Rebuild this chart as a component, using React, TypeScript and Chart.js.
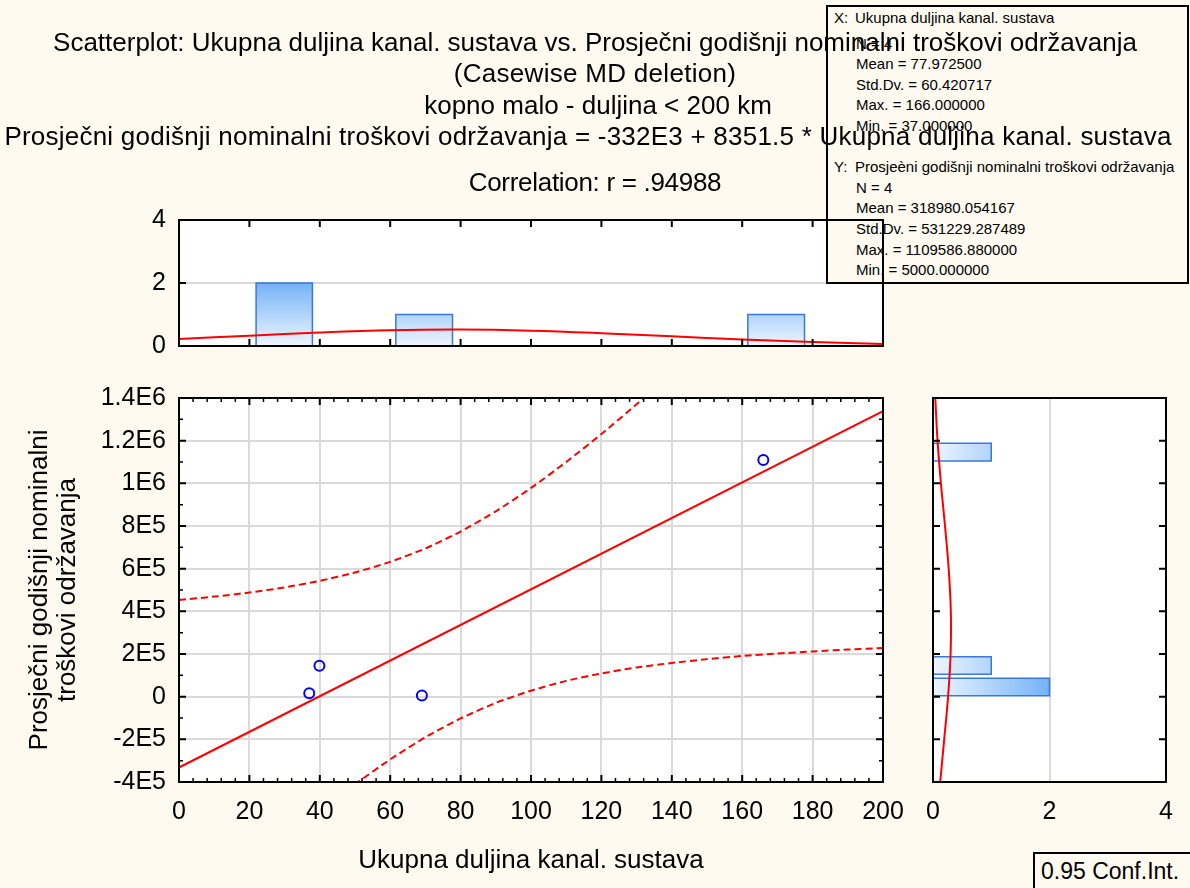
import { useEffect, useRef } from 'react';
import { Chart, registerables } from 'chart.js';

Chart.register(...registerables);

const FONT = "'Liberation Sans', Arial, Helvetica, sans-serif";
const PAGE_BG = '#fffaf0';
const RED = '#ff0000';

// ---- data ----
const caseX = [37, 39.89, 69, 166];
const caseY = [16000, 145333, 5000, 1109586.88];

const fitX = [0, 200];
const fitY = [-332000, 1338300];

const upperBandX = [0, 10, 20, 30, 40, 50, 60, 70, 80, 90, 100, 110, 120, 130, 140];
const upperBandY = [453000, 469000, 488000, 512000, 543000, 582000, 632000, 695000, 774000, 869000, 978000, 1100000, 1231000, 1371000, 1516000];
const lowerBandX = [40, 50, 60, 70, 80, 90, 100, 110, 120, 130, 140, 150, 160, 170, 180, 190, 200];
const lowerBandY = [-539000, -411000, -294000, -190000, -102000, -29000, 28000, 74000, 109000, 137000, 158000, 176000, 191000, 202000, 212000, 221000, 228000];

const xBinStart = [21.9, 61.6, 161.6];
const xBinEnd = [37.9, 77.7, 177.7];
const xBinCount = [2, 1, 1];

const yBinStart = [4700, 105000, 1104800];
const yBinEnd = [86300, 187500, 1187800];
const yBinCount = [2, 1, 1];

const xDensX = [0, 20, 40, 60, 80, 100, 120, 140, 160, 180, 200];
const xDens = [0.226, 0.328, 0.427, 0.498, 0.52, 0.486, 0.408, 0.307, 0.207, 0.125, 0.067];

const yDensY = [-400000, -200000, 0, 200000, 400000, 600000, 800000, 1000000, 1200000, 1400000];
const yDens = [0.124, 0.192, 0.259, 0.302, 0.306, 0.269, 0.206, 0.136, 0.078, 0.039];

const xRange = [0, 200];
const xStep = 20;
const yRange = [-400000, 1400000];
const yStep = 200000;
const countRange = [0, 4];
const countStep = 2;

const xTickLabels = ['0', '20', '40', '60', '80', '100', '120', '140', '160', '180', '200'];
const yTickLabels = ['-4E5', '-2E5', '0', '2E5', '4E5', '6E5', '8E5', '1E6', '1.2E6', '1.4E6'];
const countTickLabels = ['0', '2', '4'];

const titleLines = [
  'Scatterplot: Ukupna duljina kanal. sustava vs. Prosječni godišnji nominalni troškovi održavanja',
  '(Casewise MD deletion)',
  'kopno malo - duljina < 200 km',
  'Prosječni godišnji nominalni troškovi održavanja = -332E3 + 8351.5 * Ukupna duljina kanal. sustava',
  'Correlation: r = .94988',
];
const titleTops = [27, 58, 90, 121, 167];
const titleShift = [0, 0, 3, -7, 0];
const titleSpacing = [0, 0.3, 0, 0.23, -0.3];
const xTitle = 'Ukupna duljina kanal. sustava';
const yTitle = ['Prosječni godišnji nominalni', 'troškovi održavanja'];

const statsLines: [string, string][] = [
  ['X:', 'Ukupna duljina kanal. sustava'],
  ['', 'N = 4'],
  ['', 'Mean = 77.972500'],
  ['', 'Std.Dv. = 60.420717'],
  ['', 'Max. = 166.000000'],
  ['', 'Min. = 37.000000'],
  ['', ''],
  ['Y:', 'Prosjeèni godišnji nominalni troškovi održavanja'],
  ['', 'N = 4'],
  ['', 'Mean = 318980.054167'],
  ['', 'Std.Dv. = 531229.287489'],
  ['', 'Max. = 1109586.880000'],
  ['', 'Min. = 5000.000000'],
];
const confLabel = '0.95 Conf.Int.';

// ---- plugins ----
const plotBg = {
  id: 'plotBg',
  beforeDraw(chart: any) {
    const { ctx, chartArea: a } = chart;
    ctx.save();
    ctx.fillStyle = '#ffffff';
    ctx.fillRect(a.left, a.top, a.width, a.height);
    ctx.restore();
  },
};

const frameTicks = {
  id: 'frameTicks',
  afterDraw(chart: any, _args: any, opts: any) {
    const { ctx, chartArea: a } = chart;
    ctx.save();
    ctx.strokeStyle = '#000';
    for (const id of ['x', 'y']) {
      const cfg = opts[id];
      if (!cfg) continue;
      const sc = chart.scales[id];
      const vals = sc.ticks.map((t: any) => t.value);
      const marks: [number, number, number][] = [];
      vals.forEach((v: number, i: number) => {
        marks.push([v, 7, 2]);
        if (i < vals.length - 1 && cfg.minor > 1) {
          for (let k = 1; k < cfg.minor; k++) marks.push([v + ((vals[i + 1] - v) * k) / cfg.minor, 4, 1.5]);
        }
      });
      for (const [v, len, lw] of marks) {
        const p = sc.getPixelForValue(v);
        ctx.lineWidth = lw;
        ctx.beginPath();
        for (const side of cfg.sides) {
          if (side === 'top') { ctx.moveTo(p, a.top); ctx.lineTo(p, a.top + len); }
          if (side === 'bottom') { ctx.moveTo(p, a.bottom); ctx.lineTo(p, a.bottom - len); }
          if (side === 'left') { ctx.moveTo(a.left, p); ctx.lineTo(a.left + len, p); }
          if (side === 'right') { ctx.moveTo(a.right, p); ctx.lineTo(a.right - len, p); }
        }
        ctx.stroke();
      }
    }
    ctx.lineWidth = 2;
    ctx.strokeRect(a.left, a.top, a.width, a.height);
    ctx.restore();
  },
};

const tickFont = { family: FONT, size: 25 };
const gridColor = '#dadada';

const fitY_ = (w: number) => (s: any) => { s.width = w; s.paddingTop = 0; s.paddingBottom = 0; };
const fitX_ = (h: number) => (s: any) => { s.height = h; s.paddingLeft = 0; s.paddingRight = 0; };

const histGradient = (horizontal: boolean, maxCount: number) => (c: any) => {
  const chart = c.chart;
  if (!chart.chartArea) return '#cfe5ff';
  const sc = horizontal ? chart.scales.x : chart.scales.y;
  const p0 = sc.getPixelForValue(0);
  const p1 = sc.getPixelForValue(maxCount);
  const g = horizontal
    ? chart.ctx.createLinearGradient(p0, 0, p1, 0)
    : chart.ctx.createLinearGradient(0, p0, 0, p1);
  g.addColorStop(0, '#eef6ff');
  g.addColorStop(1, '#74b2f6');
  return g;
};

function mainConfig(): any {
  return {
    type: 'line',
    data: {
      datasets: [
        {
          type: 'scatter',
          data: caseX.map((x, i) => ({ x, y: caseY[i] })),
          pointStyle: 'circle',
          pointRadius: 5,
          borderColor: '#0000ff',
          borderWidth: 2,
          backgroundColor: 'rgba(0,0,0,0)',
        },
        {
          data: fitX.map((x, i) => ({ x, y: fitY[i] })),
          borderColor: RED, borderWidth: 2, pointRadius: 0, fill: false, clip: 0,
        },
        {
          data: upperBandX.map((x, i) => ({ x, y: upperBandY[i] })),
          borderColor: RED, borderWidth: 2, borderDash: [7, 4], pointRadius: 0, tension: 0.2, fill: false, clip: 0,
        },
        {
          data: lowerBandX.map((x, i) => ({ x, y: lowerBandY[i] })),
          borderColor: RED, borderWidth: 2, borderDash: [7, 4], pointRadius: 0, tension: 0.2, fill: false, clip: 0,
        },
      ],
    },
    options: {
      animation: false,
      responsive: false,
      maintainAspectRatio: false,
      layout: { padding: { top: 18, right: 27, left: 0, bottom: 0 } },
      plugins: {
        legend: { display: false },
        tooltip: { enabled: false },
        frameTicks: { x: { sides: ['top', 'bottom'], minor: 5 }, y: { sides: ['left', 'right'], minor: 2 } },
      },
      scales: {
        x: {
          type: 'linear', min: xRange[0], max: xRange[1],
          ticks: { stepSize: xStep, padding: 15, font: tickFont, color: '#000', maxRotation: 0, autoSkip: false, callback: (_v: any, i: number) => xTickLabels[i] },
          grid: { color: gridColor, lineWidth: 2, drawTicks: false },
          border: { display: false },
          title: { display: true, text: xTitle, font: { family: FONT, size: 26, lineHeight: 1.2 }, color: '#000', padding: { top: 0, bottom: 4 } },
          afterFit: fitX_(98),
        },
        y: {
          type: 'linear', min: yRange[0], max: yRange[1],
          ticks: { stepSize: yStep, padding: 13, font: tickFont, color: '#000', autoSkip: false, callback: (_v: any, i: number) => yTickLabels[i] },
          grid: { color: gridColor, lineWidth: 2, drawTicks: false },
          border: { display: false },
          title: { display: true, text: yTitle, font: { family: FONT, size: 26, lineHeight: 1.08 }, color: '#000', padding: { top: 26, bottom: 0 } },
          afterFit: fitY_(179),
        },
      },
    },
    plugins: [plotBg, frameTicks],
  };
}

function topHistConfig(): any {
  const maxCount = Math.max(...xBinCount);
  return {
    type: 'line',
    data: {
      datasets: [
        {
          data: xDensX.map((x, i) => ({ x, y: xDens[i] })),
          borderColor: RED, borderWidth: 2, pointRadius: 0, tension: 0.4, fill: false,
        },
        ...xBinStart.map((s, i) => ({
          data: [
            { x: s, y: 0 },
            { x: s, y: xBinCount[i] },
            { x: xBinEnd[i], y: xBinCount[i] },
            { x: xBinEnd[i], y: 0 },
          ],
          fill: 'shape',
          backgroundColor: histGradient(false, maxCount),
          borderColor: '#3a78d6', borderWidth: 1.5, pointRadius: 0, tension: 0,
        })),
      ],
    },
    options: {
      animation: false,
      responsive: false,
      maintainAspectRatio: false,
      layout: { padding: { top: 20, right: 27, left: 0, bottom: 0 } },
      plugins: {
        legend: { display: false },
        tooltip: { enabled: false },
        frameTicks: { x: { sides: ['top', 'bottom'], minor: 1 }, y: { sides: ['left'], minor: 1 } },
      },
      scales: {
        x: {
          type: 'linear', min: xRange[0], max: xRange[1],
          ticks: { stepSize: xStep, display: false },
          grid: { display: false },
          border: { display: false },
          afterFit: fitX_(14),
        },
        y: {
          type: 'linear', min: countRange[0], max: countRange[1],
          ticks: { stepSize: countStep, padding: 13, font: tickFont, color: '#000', callback: (_v: any, i: number) => countTickLabels[i] },
          grid: { color: gridColor, lineWidth: 2, drawTicks: false },
          border: { display: false },
          afterFit: fitY_(179),
        },
      },
    },
    plugins: [plotBg, frameTicks],
  };
}

function rightHistConfig(): any {
  const maxCount = Math.max(...yBinCount);
  return {
    type: 'line',
    data: {
      datasets: [
        {
          data: yDensY.map((y, i) => ({ x: yDens[i], y })),
          borderColor: RED, borderWidth: 2, pointRadius: 0, tension: 0.4, fill: false,
        },
        ...yBinStart.map((s, i) => ({
          data: [
            { x: 0, y: s },
            { x: yBinCount[i], y: s },
            { x: yBinCount[i], y: yBinEnd[i] },
            { x: 0, y: yBinEnd[i] },
          ],
          fill: 'shape',
          backgroundColor: histGradient(true, maxCount),
          borderColor: '#3a78d6', borderWidth: 1.5, pointRadius: 0, tension: 0,
        })),
      ],
    },
    options: {
      animation: false,
      responsive: false,
      maintainAspectRatio: false,
      layout: { padding: { top: 18, right: 24, left: 0, bottom: 0 } },
      plugins: {
        legend: { display: false },
        tooltip: { enabled: false },
        frameTicks: { y: { sides: ['left', 'right'], minor: 1 } },
      },
      scales: {
        x: {
          type: 'linear', min: countRange[0], max: countRange[1],
          ticks: { stepSize: countStep, padding: 15, font: tickFont, color: '#000', maxRotation: 0, callback: (_v: any, i: number) => countTickLabels[i] },
          grid: { color: gridColor, lineWidth: 2, drawTicks: false },
          border: { display: false },
          afterFit: fitX_(98),
        },
        y: {
          type: 'linear', min: yRange[0], max: yRange[1],
          ticks: { stepSize: yStep, display: false },
          grid: { display: false },
          border: { display: false },
          afterFit: fitY_(28),
        },
      },
    },
    plugins: [plotBg, frameTicks],
  };
}

const abs = (left: number, top: number, extra: any = {}) => ({ position: 'absolute' as const, left, top, ...extra });

export default function App() {
  const mainRef = useRef<HTMLCanvasElement>(null);
  const topRef = useRef<HTMLCanvasElement>(null);
  const rightRef = useRef<HTMLCanvasElement>(null);
  const frameRef = useRef<HTMLDivElement>(null);

  useEffect(() => {
    const main = new Chart(mainRef.current as HTMLCanvasElement, mainConfig());
    const top = new Chart(topRef.current as HTMLCanvasElement, topHistConfig());
    const right = new Chart(rightRef.current as HTMLCanvasElement, rightHistConfig());
    const a = top.chartArea;
    const f = frameRef.current;
    if (f && a) {
      f.style.left = `${a.left - 1}px`;
      f.style.top = `${200 + a.top - 1}px`;
      f.style.width = `${a.width + 2}px`;
      f.style.height = `${a.height + 2}px`;
    }
    return () => {
      main.destroy();
      top.destroy();
      right.destroy();
    };
  }, []);

  return (
    <div style={{ position: 'absolute', left: 0, top: 0, width: 1190, height: 888, overflow: 'hidden', background: PAGE_BG, fontFamily: FONT, color: '#000' }}>
      <canvas ref={mainRef} width={910} height={500} style={abs(0, 380, { width: 910, height: 500, zIndex: 0 })} />
      <canvas ref={rightRef} width={285} height={500} style={abs(905, 380, { width: 285, height: 500, zIndex: 0 })} />
      <canvas ref={topRef} width={910} height={160} style={abs(0, 200, { width: 910, height: 160, zIndex: 0 })} />

      <div style={abs(826, 5, { width: 363, height: 279, boxSizing: 'border-box', border: '2px solid #000', background: PAGE_BG, zIndex: 1, paddingTop: 6, fontSize: 15, lineHeight: '20.6px', whiteSpace: 'pre' })}>
        {statsLines.map(([h, t], i) => (
          <div key={i} style={{ height: 20.6, paddingLeft: h ? 6 : 28, position: 'relative', top: i === 0 ? -5 : 0 }}>
            {h ? <span style={{ display: 'inline-block', width: 21 }}>{h}</span> : null}
            {t}
          </div>
        ))}
      </div>

      <div ref={frameRef} style={abs(178, 219, { width: 706, height: 128, boxSizing: 'border-box', border: '2px solid #000', zIndex: 2, pointerEvents: 'none' })} />

      {titleLines.map((t, i) => (
        <div key={i} style={abs(titleShift[i], titleTops[i], { width: 1190, textAlign: 'center', fontSize: 26, lineHeight: '30px', letterSpacing: titleSpacing[i], whiteSpace: 'nowrap', zIndex: 3 })}>
          {t}
        </div>
      ))}

      <div style={abs(1033, 852, { width: 160, height: 45, boxSizing: 'border-box', border: '2px solid #000', background: PAGE_BG, fontSize: 23, lineHeight: '34px', paddingLeft: 6, whiteSpace: 'nowrap', zIndex: 3 })}>
        {confLabel}
      </div>
    </div>
  );
}
